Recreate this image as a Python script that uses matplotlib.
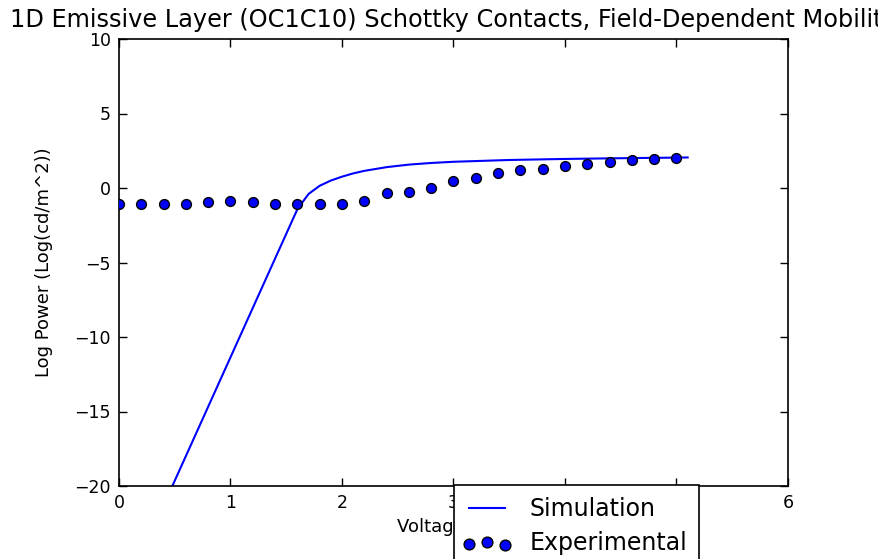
import matplotlib
matplotlib.use("Agg")
import matplotlib.pyplot as plt
from matplotlib.lines import Line2D
from matplotlib.collections import PathCollection
from matplotlib.legend_handler import HandlerLine2D, HandlerPathCollection

# Simulated luminance (log scale) vs. applied voltage
sim_voltage = [0.4, 1.6, 1.7, 1.8, 1.9, 2.0, 2.1, 2.2, 2.4, 2.6, 2.8, 3.0,
               3.5, 4.0, 4.5, 5.0, 5.1]
sim_log_power = [-21.3, -1.42, -0.4, 0.15, 0.5, 0.76, 0.98, 1.15, 1.4, 1.57,
                 1.68, 1.76, 1.88, 1.95, 2.0, 2.04, 2.05]

# Measured device data
exp_voltage = [0.0, 0.2, 0.4, 0.6, 0.8, 1.0, 1.2, 1.4, 1.6, 1.8, 2.0, 2.2, 2.4,
               2.6, 2.8, 3.0, 3.2, 3.4, 3.6, 3.8, 4.0, 4.2, 4.4, 4.6, 4.8, 5.0]
exp_log_power = [-1.1, -1.05, -1.05, -1.06, -0.94, -0.85, -0.94, -1.05, -1.05,
                 -1.05, -1.05, -0.85, -0.36, -0.28, 0.03, 0.48, 0.7, 0.98,
                 1.18, 1.28, 1.47, 1.58, 1.73, 1.85, 1.94, 2.04]

x_ticks = [0, 1, 2, 3, 4, 5, 6]
y_ticks = [-20, -15, -10, -5, 0, 5, 10]

title = "1D Emissive Layer (OC1C10) Schottky Contacts, Field-Dependent Mobility"

W, H = 879, 559
fig = plt.figure(figsize=(W / 100, H / 100), dpi=100)
ax = fig.add_axes([119 / W, 1 - 486 / H, (788 - 119) / W, (486 - 39) / H])

ax.plot(sim_voltage, sim_log_power, color="#0000ff", lw=1.5, label="Simulation")
ax.scatter(exp_voltage, exp_log_power, s=50, c="#0000ff", edgecolors="black",
           linewidths=1.0, label="Experimental", zorder=3)

ax.set_xlim(0, 6)
ax.set_ylim(-20, 10)
ax.set_xticks(x_ticks)
ax.set_yticks(y_ticks)
ax.tick_params(direction="in", top=True, right=True, length=6, width=1,
               labelsize=12.5, pad=6)
for sp in ax.spines.values():
    sp.set_linewidth(1.2)

ax.set_xlabel("Voltage (V)", fontsize=13, labelpad=9)
ax.xaxis.set_label_coords(0.49, -0.072)
ax.set_ylabel("Log Power (Log(cd/m^2))", fontsize=13, labelpad=15)
ax.set_title(title, fontsize=17.3, pad=9)

handlers = {
    Line2D: HandlerLine2D(xpad=0.14),
    PathCollection: HandlerPathCollection(xpad=0.14, marker_pad=0.0,
                                          sizes=[60]),
}
leg = ax.legend(loc="upper left", bbox_to_anchor=(454 / W, 1 - 485 / H),
                bbox_transform=fig.transFigure, borderaxespad=0,
                fontsize=17, scatterpoints=3, frameon=True, fancybox=False,
                handlelength=1.64, handletextpad=1.07, borderpad=0.5,
                labelspacing=0.45, handler_map=handlers)
leg.get_frame().set_edgecolor("black")
leg.get_frame().set_linewidth(1.2)
leg.get_frame().set_alpha(1.0)

fig.savefig("out.png", dpi=100)
